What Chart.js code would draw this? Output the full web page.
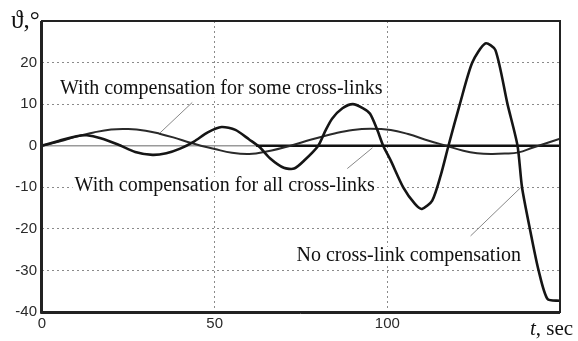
<!DOCTYPE html>
<html>
<head>
<meta charset="utf-8">
<script src="https://cdn.jsdelivr.net/npm/chart.js@4"></script>
<style>
  body { margin: 0; background: #fff; }
</style>
</head>
<body>
<canvas id="mycanvas" width="578" height="341"></canvas>
<script>
// time axis (sec) and angle values (deg)
var noCompT   = [0, 5, 10, 13, 17, 22, 27, 32, 36, 40, 44, 48, 52, 56, 60, 63, 66, 70, 73, 76, 80, 82, 84, 87, 90, 93, 95, 97, 98.8, 101, 104.6, 108, 110, 113, 115.5, 117.7, 121, 124.6, 128.4, 131.3, 134.8, 137.7, 139, 141.4, 143.8, 146.4, 150];
var noCompDeg = [0, 1.2, 2.3, 2.5, 1.8, 0.3, -1.5, -2.2, -1.8, -0.7, 1, 3.2, 4.5, 3.8, 1.5, -0.3, -3, -5.3, -5.5, -3.5, 0, 3.5, 6.5, 9, 10, 9, 7.7, 4, 0, -3.6, -10, -14, -15.2, -13.2, -7, 0, 10, 20, 24.6, 23, 10, 0, -10, -20.5, -30, -36.9, -37.3];

var someT   = [0, 5, 10, 15, 20, 25, 30, 34, 38, 43, 46, 50, 55, 60, 65, 72, 78, 85, 90, 95, 101, 106, 112, 117, 122, 126, 130, 134, 138, 142, 146, 150];
var someDeg = [0, 1, 2.2, 3.2, 3.9, 4, 3.6, 2.9, 2, 0.7, 0, -0.8, -1.7, -2, -1.4, 0, 1.5, 3, 3.8, 4.1, 3.8, 2.8, 1.2, 0, -1.2, -1.8, -2, -1.9, -1.6, -0.5, 0.6, 1.7];

var allT   = [0, 62, 150];
var allDeg = [0, 0, 0];

var yTicks = [-40, -30, -20, -10, 0, 10, 20, 30];
var xTicks = [0, 50, 100, 150];

function pts(t, v) {
  var out = [];
  for (var i in t) out.push({x: t[i], y: v[i]});
  return out;
}

// text labels with leader lines, in data coordinates
var notes = [
  {text: 'With compensation for some cross-links', x: 51.9, y: 13.7, from: [43.5, 10.4], to: [34.2, 3.1]},
  {text: 'With compensation for all cross-links', x: 52.9, y: -9.6, from: [88.4, -5.5], to: [95.7, -0.5]},
  {text: 'No cross-link compensation', x: 106.2, y: -26.5, from: [124.1, -21.7], to: [138.6, -10.1]}
];

var notesPlugin = {
  id: 'notes',
  beforeDatasetsDraw: function(chart) {
    var ctx = chart.ctx, xs = chart.scales.x, ys = chart.scales.y;
    ctx.save();
    ctx.font = '20px "Liberation Serif", "Times New Roman", serif';
    ctx.textAlign = 'center';
    ctx.textBaseline = 'middle';
    notes.forEach(function(n) {
      var px = xs.getPixelForValue(n.x), py = ys.getPixelForValue(n.y);
      var w = ctx.measureText(n.text).width;
      ctx.fillStyle = '#fff';
      ctx.fillRect(px - w / 2 - 2, py - 9, w + 4, 18);
      ctx.fillStyle = '#111';
      ctx.fillText(n.text, px, py);
      ctx.strokeStyle = '#888';
      ctx.lineWidth = 1;
      ctx.beginPath();
      ctx.moveTo(xs.getPixelForValue(n.from[0]), ys.getPixelForValue(n.from[1]));
      ctx.lineTo(xs.getPixelForValue(n.to[0]), ys.getPixelForValue(n.to[1]));
      ctx.stroke();
    });
    ctx.restore();
  },
  afterDraw: function(chart) {
    var ctx = chart.ctx, a = chart.chartArea;
    ctx.save();
    ctx.strokeStyle = '#222';
    ctx.lineWidth = 2;
    ctx.strokeRect(a.left, a.top, a.right - a.left, a.bottom - a.top);
    ctx.lineWidth = 1;
    ctx.beginPath();
    ctx.moveTo(a.left - 1.5, a.top); ctx.lineTo(a.left - 1.5, a.bottom + 1.5);
    ctx.lineTo(a.right, a.bottom + 1.5);
    ctx.stroke();
    // axis titles
    ctx.fillStyle = '#111';
    ctx.textBaseline = 'alphabetic';
    ctx.font = '25px "Liberation Serif", serif';
    ctx.textAlign = 'left';
    ctx.fillText('\u03d1,\u00b0', 11, 28);
    ctx.font = 'italic 21px "Liberation Serif", serif';
    ctx.fillText('t', 530, 335);
    var tw = ctx.measureText('t').width;
    ctx.font = '21px "Liberation Serif", serif';
    ctx.fillText(', sec', 530 + tw, 335);
    ctx.restore();
  }
};

var ctx = document.getElementById('mycanvas');
var chart = new Chart(ctx, {
  type: 'line',
  data: {
    datasets: [
      {
        label: 'No cross-link compensation',
        data: pts(noCompT, noCompDeg),
        borderColor: '#151515',
        borderWidth: 2.6,
        pointRadius: 0,
        tension: 0.25
      },
      {
        label: 'With compensation for some cross-links',
        data: pts(someT, someDeg),
        borderColor: '#2a2a2a',
        borderWidth: 2,
        pointRadius: 0,
        tension: 0.4
      },
      {
        label: 'With compensation for all cross-links',
        data: pts(allT, allDeg),
        borderColor: '#111',
        borderWidth: 2.6,
        pointRadius: 0,
        segment: {
          borderColor: function(c) { return c.p0.parsed.x < 60 ? '#9a9a9a' : '#111'; },
          borderWidth: function(c) { return c.p0.parsed.x < 60 ? 1.5 : 2.6; }
        }
      }
    ]
  },
  options: {
    responsive: false,
    animation: false,
    layout: { padding: { top: 21, right: 18, left: 0, bottom: 0 } },
    plugins: { legend: { display: false }, tooltip: { enabled: false } },
    scales: {
      x: {
        type: 'linear',
        min: xTicks[0],
        max: xTicks[xTicks.length - 1],
        afterBuildTicks: function(s) { s.ticks = xTicks.map(function(v) { return {value: v}; }); },
        afterFit: function(s) { s.height = 29; },
        ticks: {
          color: '#2a2a2a',
          font: { family: '"Liberation Sans", Arial, sans-serif', size: 15 },
          padding: 3,
          maxRotation: 0,
          callback: function(v) { return v === 150 ? '' : v; }
        },
        grid: { color: '#8a8a8a', lineWidth: 1, drawTicks: false },
        border: { display: false, dash: [2, 3] }
      },
      y: {
        min: yTicks[0],
        max: yTicks[yTicks.length - 1],
        afterBuildTicks: function(s) { s.ticks = yTicks.map(function(v) { return {value: v}; }); },
        afterFit: function(s) { s.width = 42; },
        ticks: {
          color: '#2a2a2a',
          font: { family: '"Liberation Sans", Arial, sans-serif', size: 15 },
          padding: 5,
          callback: function(v) { return v === 30 ? '' : v; }
        },
        grid: { color: '#8a8a8a', lineWidth: 1, drawTicks: false },
        border: { display: false, dash: [2, 3] }
      }
    }
  },
  plugins: [notesPlugin]
});
</script>
</body>
</html>
